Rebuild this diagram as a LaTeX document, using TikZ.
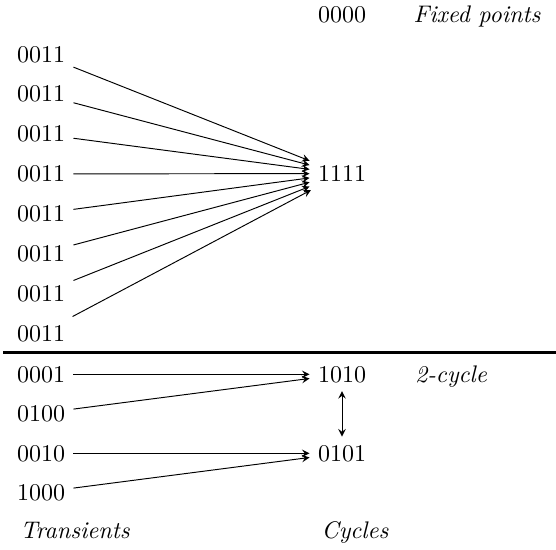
\documentclass[tikz,border=0pt]{standalone}
\usetikzlibrary{arrows}
\begin{document}
\begin{tikzpicture}[x=0.41667pt,y=-0.41667pt,
  st/.style={anchor=base},
  lab/.style={anchor=base,font=\itshape},
  arr/.style={-stealth},
  sep/.style={line width=1.2pt}]
\useasboundingbox (0,0) rectangle (556,549);
\node[st] (f0) at (342,22) {0000};
\node[lab] (fp) at (477,22) {Fixed points};
\node[st] (f1) at (342,181.6) {1111};
\foreach \i/\yy in {1/62,2/101.9,3/141.7,4/181.6,5/221.4,6/261.3,7/301.1,8/341}{
  \node[st] (a\i) at (41,\yy) {0011};
  \draw[arr] (a\i) -- (f1);
}
\coordinate (l1) at (3,352.7);
\coordinate (l2) at (556,352.7);
\draw[sep] (l1) -- (l2);
\node[st] (c1) at (342,382) {1010};
\node[st] (c2) at (342,461) {0101};
\node[lab] (tc) at (451,382) {2-cycle};
\node[st] (t1) at (41,382) {0001};
\node[st] (t2) at (41,421) {0100};
\node[st] (t3) at (41,461) {0010};
\node[st] (t4) at (41,500) {1000};
\draw[arr] (t1) -- (c1);
\draw[arr] (t2) -- (c1);
\draw[arr] (t3) -- (c2);
\draw[arr] (t4) -- (c2);
\draw[stealth-stealth] (c1) -- (c2);
\node[lab] (tr) at (75,538) {Transients};
\node[lab] (cy) at (355,538) {Cycles};
\end{tikzpicture}
\end{document}
